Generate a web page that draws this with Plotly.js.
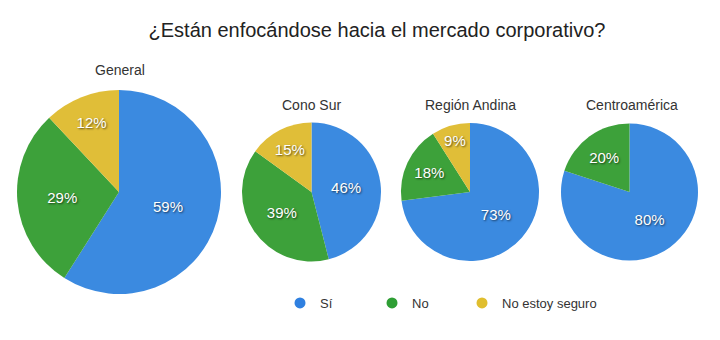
<!DOCTYPE html>
<html>
<head>
<meta charset="utf-8">
<script src="https://cdn.plot.ly/plotly-3.0.1.min.js"></script>
<style>html,body{margin:0;padding:0;background:#fff;}#chart{width:720px;height:340px;}</style>
</head>
<body>
<div id="chart"></div>
<script>
var chartTitle = "¿Están enfocándose hacia el mercado corporativo?";
var categories = ["Sí", "No", "No estoy seguro"];
var regions = ["General", "Cono Sur", "Región Andina", "Centroamérica"];
var generalValues = [59, 29, 12];
var conoSurValues = [46, 39, 15];
var andinaValues = [73, 18, 9];
var centroValues = [80, 20, 0];
var sliceColors = ["#3b8ae0", "#3da13a", "#e0be38"];
var legendColors = ["#2f80e0", "#2e9e34", "#e0be2e"];

var seriesValues = [generalValues, conoSurValues, andinaValues, centroValues];
var W = 720, H = 340;
// pie boxes in pixels: [left, right, top, bottom]
var boxes = [
  [17, 221, 90, 294],
  [242, 381, 122, 262],
  [401, 539, 122, 262],
  [561, 698, 122, 262]
];
var titlePos = [[120, 70], [311, 105], [470, 105], [632, 105]];
var legendX = [280, 372, 462];
var legendIds = ["legend", "legend2", "legend3"];

var data = [];
seriesValues.forEach(function (vals, i) {
  var b = boxes[i];
  data.push({
    type: "pie",
    labels: categories,
    values: vals,
    sort: false,
    direction: "clockwise",
    rotation: 0,
    showlegend: false,
    hoverinfo: "label+percent",
    texttemplate: "%{value}%",
    textposition: "inside",
    insidetextorientation: "horizontal",
    textfont: {family: "Liberation Sans, Arial, sans-serif", size: 15, color: "#ffffff", shadow: "1px 1px 2px rgba(0,0,0,0.6)"},
    marker: {colors: sliceColors, line: {width: 0}},
    domain: {x: [b[0] / W, b[1] / W], y: [1 - b[3] / H, 1 - b[2] / H]}
  });
});
categories.forEach(function (c, i) {
  data.push({
    type: "scatter",
    mode: "markers",
    x: [null], y: [null],
    name: c,
    legend: legendIds[i],
    showlegend: true,
    marker: {symbol: "circle", size: 11, color: legendColors[i]},
    hoverinfo: "skip"
  });
});

var annotations = regions.map(function (r, i) {
  return {
    text: r, x: titlePos[i][0] / W, y: 1 - titlePos[i][1] / H,
    xref: "paper", yref: "paper", showarrow: false,
    xanchor: "center", yanchor: "middle",
    font: {family: "Liberation Sans, Arial, sans-serif", size: 14, color: "#333333"}
  };
});

var layout = {
  width: W, height: H,
  margin: {l: 0, r: 0, t: 0, b: 0},
  paper_bgcolor: "#ffffff",
  plot_bgcolor: "#ffffff",
  title: {text: chartTitle, x: 377 / W, xanchor: "center", y: 1 - 30 / H, yanchor: "middle",
    font: {family: "Liberation Sans, Arial, sans-serif", size: 20, color: "#222222"}},
  xaxis: {visible: false, domain: [0, 0.01]},
  yaxis: {visible: false, domain: [0, 0.01]},
  showlegend: true,
  annotations: annotations
};
legendIds.forEach(function (id, i) {
  layout[id] = {
    orientation: "h", x: legendX[i] / W, xanchor: "left", y: 1 - 303 / H, yanchor: "middle",
    font: {family: "Liberation Sans, Arial, sans-serif", size: 13, color: "#333333"},
    itemclick: false, itemdoubleclick: false, bgcolor: "rgba(0,0,0,0)"
  };
});

Plotly.newPlot("chart", data, layout, {displayModeBar: false, staticPlot: true});
</script>
</body>
</html>
